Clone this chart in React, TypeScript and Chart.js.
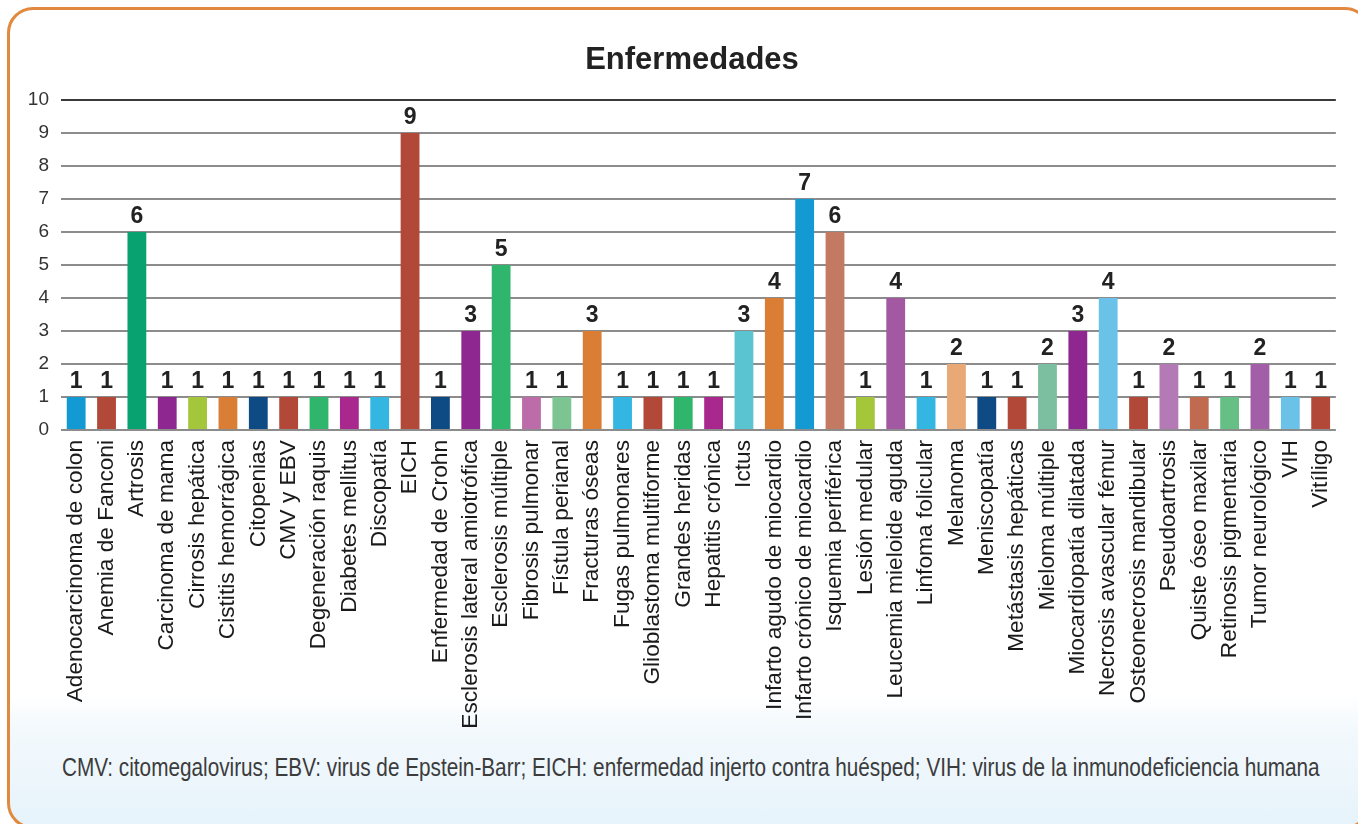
import React, { useEffect, useRef } from "react";
import { Chart, registerables } from "chart.js";

Chart.register(...registerables);

const chartTitle = "Enfermedades";

const categories = [
  "Adenocarcinoma de colon",
  "Anemia de Fanconi",
  "Artrosis",
  "Carcinoma de mama",
  "Cirrosis hepática",
  "Cistitis hemorrágica",
  "Citopenias",
  "CMV y EBV",
  "Degeneración raquis",
  "Diabetes mellitus",
  "Discopatía",
  "EICH",
  "Enfermedad de Crohn",
  "Esclerosis lateral amiotrófica",
  "Esclerosis múltiple",
  "Fibrosis pulmonar",
  "Fístula perianal",
  "Fracturas óseas",
  "Fugas pulmonares",
  "Glioblastoma multiforme",
  "Grandes heridas",
  "Hepatitis crónica",
  "Ictus",
  "Infarto agudo de miocardio",
  "Infarto crónico de miocardio",
  "Isquemia periférica",
  "Lesión medular",
  "Leucemia mieloide aguda",
  "Linfoma folicular",
  "Melanoma",
  "Meniscopatía",
  "Metástasis hepáticas",
  "Mieloma múltiple",
  "Miocardiopatía dilatada",
  "Necrosis avascular fémur",
  "Osteonecrosis mandibular",
  "Pseudoartrosis",
  "Quiste óseo maxilar",
  "Retinosis pigmentaria",
  "Tumor neurológico",
  "VIH",
  "Vitíligo",
];

const values = [
  1, 1, 6, 1, 1, 1, 1, 1, 1, 1, 1, 9, 1, 3, 5, 1, 1, 3, 1, 1, 1, 1, 3, 4, 7, 6,
  1, 4, 1, 2, 1, 1, 2, 3, 4, 1, 2, 1, 1, 2, 1, 1,
];

const barColors = [
  "#139ad3", "#b24838", "#07a270", "#8e278f", "#a3c63b", "#db7e35", "#0e4a83",
  "#b24838", "#30b56c", "#a8288e", "#33b7e2", "#b24838", "#0e4a83", "#8e278f",
  "#30b56c", "#bc6ca8", "#7cc592", "#db7e35", "#33b7e2", "#b24838", "#30b56c",
  "#a8288e", "#5bc4d1", "#db7e35", "#139ad3", "#c47962", "#a3c63b", "#a259a2",
  "#33b7e2", "#e8a977", "#0e4a83", "#b24838", "#7bbfa0", "#8e278f", "#6ac2e8",
  "#b24838", "#b47ab5", "#c06a50", "#66c086", "#a25ea6", "#6ac2e8", "#b24838",
];

const yMin = 0;
const yMax = 10;
const yStep = 1;

const footnote =
  "CMV: citomegalovirus; EBV: virus de Epstein-Barr; EICH: enfermedad injerto contra huésped; VIH: virus de la inmunodeficiencia humana";

const FONT = "'Liberation Sans', Arial, Helvetica, sans-serif";

const titlePlugin = {
  id: "customTitle",
  afterDraw(chart: any) {
    const ctx = chart.ctx;
    ctx.save();
    ctx.font = `bold 31px ${FONT}`;
    ctx.fillStyle = "#222222";
    ctx.textAlign = "center";
    ctx.textBaseline = "alphabetic";
    ctx.fillText(chartTitle, 692, 69);
    ctx.restore();
  },
};

const valueLabelPlugin = {
  id: "valueLabels",
  afterDatasetsDraw(chart: any) {
    const ctx = chart.ctx;
    const meta = chart.getDatasetMeta(0);
    ctx.save();
    ctx.font = `bold 23px ${FONT}`;
    ctx.fillStyle = "#222222";
    ctx.textAlign = "center";
    ctx.textBaseline = "alphabetic";
    meta.data.forEach((bar: any, i: number) => {
      ctx.fillText(String(values[i]), bar.x, bar.y - 9);
    });
    ctx.restore();
  },
};

export default function App() {
  const canvasRef = useRef<HTMLCanvasElement | null>(null);
  const noteRef = useRef<HTMLSpanElement | null>(null);

  useEffect(() => {
    const note = noteRef.current;
    if (note) {
      const w = note.offsetWidth;
      if (w > 0) {
        note.style.transform = `scaleX(${1258 / w})`;
      }
    }
    const canvas = canvasRef.current;
    if (!canvas) return;
    const chart = new Chart(canvas, {
      type: "bar",
      data: {
        labels: categories,
        datasets: [
          {
            data: values,
            backgroundColor: barColors,
            borderWidth: 0,
            barPercentage: 0.62,
            categoryPercentage: 1,
          },
        ],
      },
      options: {
        responsive: false,
        animation: false,
        layout: { padding: { left: 0, right: 8, top: 100, bottom: 0 } },
        plugins: {
          legend: { display: false },
          tooltip: { enabled: false },
          title: { display: false },
        },
        scales: {
          x: {
            grid: { display: false, drawTicks: false },
            border: { display: false },
            ticks: {
              autoSkip: false,
              minRotation: 90,
              maxRotation: 90,
              padding: 10,
              color: "#1a1a1a",
              font: { family: FONT, size: 22.7 },
            },
            afterFit(scale: any) {
              scale.height = 310;
            },
          },
          y: {
            min: yMin,
            max: yMax,
            grid: {
              drawTicks: false,
              lineWidth: 2,
              color: (c: any) =>
                c.tick && c.tick.value === yMax ? "#3a3a3a" : "#8c8c8c",
            },
            border: { display: false },
            ticks: {
              stepSize: yStep,
              padding: 12,
              color: "#333333",
              font: { family: FONT, size: 19 },
            },
            afterFit(scale: any) {
              scale.width = 61;
            },
          },
        },
      },
      plugins: [valueLabelPlugin, titlePlugin],
    });
    return () => chart.destroy();
  }, []);

  return (
    <div
      style={{
        position: "fixed",
        inset: 0,
        overflow: "hidden",
        background: "#ffffff",
      }}
    >
      <div
        style={{
          position: "absolute",
          left: 7,
          top: 7,
          width: 1364,
          height: 822,
          boxSizing: "border-box",
          border: "3px solid #e0893f",
          borderRadius: 26,
          background:
            "linear-gradient(to bottom, #ffffff 0%, #ffffff 84%, #f3f9fd 88%, #e6f3fa 100%)",
        }}
      />
      <canvas
        ref={canvasRef}
        width={1358}
        height={740}
        style={{
          position: "absolute",
          left: 0,
          top: 0,
          width: 1358,
          height: 740,
        }}
      />
      <div
        style={{
          position: "absolute",
          left: 62,
          top: 752,
          width: 1258,
          fontFamily: FONT,
          fontSize: 25,
          lineHeight: "30px",
          color: "#3c3c3c",
          whiteSpace: "nowrap",
        }}
      >
        <span
          ref={noteRef}
          style={{
            display: "inline-block",
            transformOrigin: "0 0",
          }}
        >
          {footnote}
        </span>
      </div>
    </div>
  );
}
